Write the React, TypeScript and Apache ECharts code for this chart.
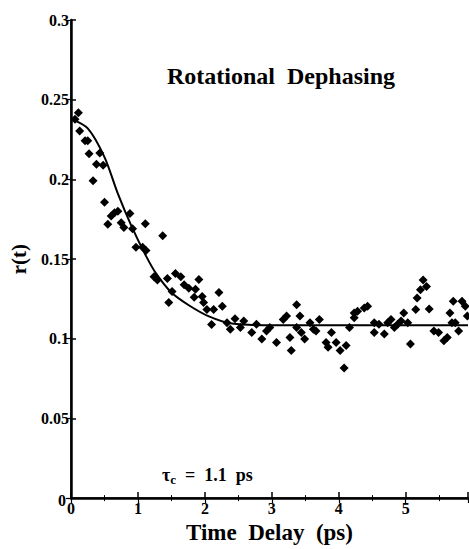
import React, { useEffect, useRef } from "react";
import * as echarts from "echarts";

const timeDelay: number[] = [
  0.11, 0.06, 0.13, 0.21, 0.25, 0.27, 0.43, 0.38, 0.48, 0.33,
  0.5, 0.6, 0.65, 0.7, 0.55, 0.75, 0.79, 0.88, 0.92, 1.11,
  1.37, 0.97, 1.07, 1.12, 1.24, 1.29, 1.44, 1.56, 1.64, 1.91,
  1.69, 1.76, 1.86, 1.51, 1.84, 1.96, 1.98, 2.21, 1.46, 2.03,
  2.13, 2.26, 2.1, 2.33, 2.38, 2.45, 2.53, 2.58, 2.7, 2.77,
  2.85, 2.92, 2.97, 3.07, 3.17, 3.22, 3.27, 3.29, 3.37, 3.42,
  3.37, 3.44, 3.49, 3.57, 3.62, 3.71, 3.66, 3.89, 3.81, 3.84,
  3.96, 4.02, 4.11, 4.08, 4.16, 4.23, 4.28, 4.38, 4.43, 4.23,
  4.53, 4.6, 4.53, 4.68, 4.73, 4.78, 4.83, 4.88, 4.93, 4.97,
  5.03, 5.07, 5.15, 5.17, 5.22, 5.26, 5.31, 5.35, 5.42, 5.49,
  5.57, 5.62, 5.66, 5.69, 5.71, 5.74, 5.79, 5.84, 5.89, 5.92,
];
const anisotropy: number[] = [
  0.2418, 0.2377, 0.2304, 0.2243, 0.2243, 0.216, 0.2165, 0.2095, 0.2088, 0.1992,
  0.1856, 0.177, 0.179, 0.18, 0.1718, 0.1728, 0.1698, 0.1786, 0.169, 0.1722,
  0.1646, 0.1574, 0.1574, 0.1554, 0.1389, 0.1369, 0.1378, 0.1409, 0.1389, 0.1372,
  0.1338, 0.1317, 0.1311, 0.1296, 0.1261, 0.1265, 0.1228, 0.129, 0.1228, 0.1183,
  0.1183, 0.1204, 0.109, 0.1101, 0.106, 0.1125, 0.107, 0.1111, 0.1039, 0.1091,
  0.0998, 0.1049, 0.107, 0.0977, 0.1121, 0.1142, 0.1008, 0.0926, 0.1214, 0.1142,
  0.107, 0.1039, 0.0998, 0.1101, 0.106, 0.1121, 0.1049, 0.1039, 0.0977, 0.0946,
  0.0977, 0.0926, 0.0957, 0.0817, 0.107, 0.1162, 0.1173, 0.1193, 0.1204, 0.1132,
  0.1101, 0.1091, 0.1039, 0.1029, 0.1101, 0.1121, 0.107, 0.1091, 0.1111, 0.1162,
  0.1101, 0.0967, 0.1183, 0.1255, 0.1307, 0.1368, 0.1327, 0.1187, 0.1049, 0.1039,
  0.0988, 0.1008, 0.1162, 0.1101, 0.1235, 0.1101, 0.1049, 0.1235, 0.1204, 0.1142,
];

const fitTime: number[] = [0, 0.25, 0.5, 0.7, 0.9, 1.12, 1.27, 1.5, 1.76, 2.06, 2.4, 3, 4, 5, 5.93];
const fitValue: number[] = [0.238, 0.232, 0.214, 0.191, 0.171, 0.152, 0.141, 0.129, 0.121, 0.114, 0.1095, 0.1084, 0.1084, 0.1084, 0.1084];

const yTickLabels: string[] = ["0", "0.05", "0.1", "0.15", "0.2", "0.25", "0.3"];
const xTickLabels: string[] = ["0", "1", "2", "3", "4", "5"];

const FONT = "Liberation Serif";

export default function App() {
  const ref = useRef<HTMLDivElement>(null);
  useEffect(() => {
    if (!ref.current) return;
    const chart = echarts.init(ref.current, null, { renderer: "svg" });
    const scatterData = timeDelay.map((t, i) => [t, anisotropy[i]]);
    const fitData = fitTime.map((t, i) => [t, fitValue[i]]);
    const labelStyle = {
      color: "#000",
      fontFamily: FONT,
      fontWeight: "bold" as const,
      fontSize: 16,
      lineHeight: 14,
    };
    chart.setOption({
      animation: false,
      backgroundColor: "#fff",
      grid: { left: 68, right: 1, top: 20, bottom: 44 },
      title: {
        text: "Rotational  Dephasing",
        left: 276,
        top: 59,
        textAlign: "center",
        textStyle: { fontFamily: FONT, fontWeight: "bold", fontSize: 24, color: "#000" },
      },
      graphic: [
        {
          type: "text",
          left: 162,
          top: 466,
          style: {
            text: "{t|τ}{s|c}{t|  =  1.1  ps}",
            rich: {
              t: { fontFamily: FONT, fontWeight: "bold", fontSize: 18, fill: "#000" },
              s: { fontFamily: FONT, fontWeight: "bold", fontSize: 13, fill: "#000", padding: [9, 0, 0, 0] },
            },
          },
        },
        {
          type: "text",
          right: 469 - 66,
          top: 492,
          style: {
            text: yTickLabels[0],
            fontFamily: FONT,
            fontWeight: "bold",
            fontSize: 16,
            lineHeight: 14,
            fill: "#000",
          },
        },
      ],
      xAxis: [
        {
          type: "value",
          min: 0,
          max: 5.93,
          interval: 1,
          name: "Time  Delay  (ps)",
          nameLocation: "middle",
          nameGap: 22,
          nameTextStyle: { fontFamily: FONT, fontWeight: "bold", fontSize: 23, color: "#000" },
          axisLine: { show: true, lineStyle: { color: "#000", width: 2.5 } },
          axisTick: { show: true, inside: true, length: 6, lineStyle: { color: "#000", width: 1.5 } },
          minorTick: { show: true, splitNumber: 2, length: 3, lineStyle: { color: "#000", width: 1 } },
          splitLine: { show: false },
          axisLabel: {
            ...labelStyle,
            margin: 3,
            showMaxLabel: false,
            formatter: (v: number) => {
              const idx = Math.round(v);
              return Math.abs(v - idx) < 1e-6 && idx < xTickLabels.length ? xTickLabels[idx] : "";
            },
          },
        },
        {
          type: "value",
          position: "top",
          min: 0,
          max: 5.93,
          interval: 1,
          axisLine: { show: true, lineStyle: { color: "#000", width: 1.5 } },
          axisTick: { show: true, inside: true, length: 5, lineStyle: { color: "#000", width: 1.2 } },
          minorTick: { show: true, splitNumber: 2, length: 3, lineStyle: { color: "#000", width: 1 } },
          axisLabel: { show: false },
          splitLine: { show: false },
        },
      ],
      yAxis: [
        {
          type: "value",
          min: 0,
          max: 0.3,
          interval: 0.05,
          name: "r(t)",
          nameLocation: "middle",
          nameGap: 42,
          nameRotate: 90,
          nameTextStyle: { fontFamily: FONT, fontWeight: "bold", fontSize: 21, color: "#000" },
          axisLine: { show: true, lineStyle: { color: "#000", width: 2.5 } },
          axisTick: { show: true, inside: true, length: 5, lineStyle: { color: "#000", width: 1.5 } },
          splitLine: { show: false },
          axisLabel: {
            ...labelStyle,
            margin: 2,
            showMinLabel: false,
            formatter: (v: number) => {
              const idx = Math.round(v / 0.05);
              return idx === 0 ? "" : yTickLabels[idx] ?? "";
            },
          },
        },
        {
          type: "value",
          position: "right",
          min: 0,
          max: 0.3,
          interval: 0.05,
          axisLine: { show: true, lineStyle: { color: "#000", width: 1.5 } },
          axisTick: { show: true, inside: true, length: 5, lineStyle: { color: "#000", width: 1.2 } },
          axisLabel: { show: false },
          splitLine: { show: false },
        },
      ],
      series: [
        {
          type: "scatter",
          data: scatterData,
          symbol: "diamond",
          symbolSize: 9,
          itemStyle: { color: "#000", opacity: 1 },
        },
        {
          type: "line",
          data: fitData,
          smooth: 0.3,
          showSymbol: false,
          lineStyle: { color: "#000", width: 2 },
        },
      ],
    });
    return () => chart.dispose();
  }, []);
  return (
    <div
      ref={ref}
      style={{ position: "fixed", left: 0, top: 0, width: 469, height: 549, background: "#fff" }}
    />
  );
}
